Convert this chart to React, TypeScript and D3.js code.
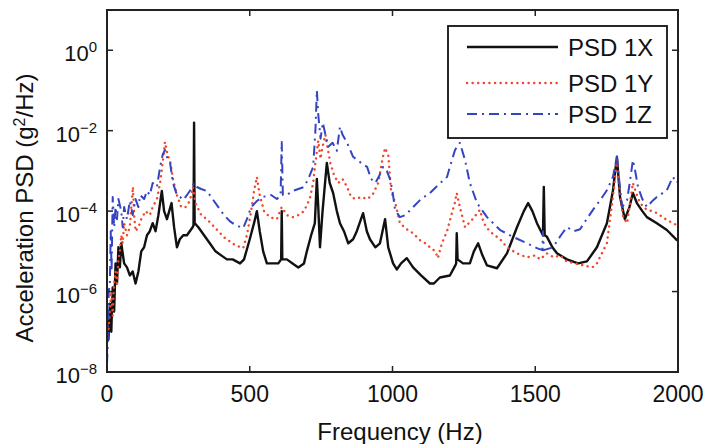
import React from "react";
import * as d3 from "d3";

// Frequencies (Hz) and log10(PSD, g^2/Hz)
const freqX = [0,5,10,15,20,25,30,35,40,45,50,60,70,80,90,100,110,120,130,140,150,160,170,180,192,200,210,226,235,245,255,267,280,290,300,303,305,307,320,340,360,380,400,420,440,466,480,500,515,525,535,547,560,580,600,610,612,614,630,650,670,690,700,715,728,735,740,746,755,770,780,792,805,816,830,845,862,875,897,910,921,940,956,974,985,1002,1015,1030,1050,1072,1100,1131,1145,1166,1201,1220,1223,1225,1228,1247,1271,1285,1300,1315,1331,1366,1401,1436,1460,1475,1490,1506,1520,1527,1530,1533,1541,1560,1576,1611,1650,1681,1716,1751,1772,1786,1797,1814,1830,1842,1856,1875,1891,1926,1961,1996,2000];
const psdXExp = [-6.6,-7.2,-6.3,-7.0,-5.9,-6.5,-5.3,-5.8,-4.9,-5.4,-4.8,-5.3,-5.4,-5.6,-5.5,-5.8,-5.5,-5.0,-4.9,-4.6,-4.5,-4.3,-4.5,-4.1,-3.5,-4.0,-4.2,-3.8,-4.4,-4.9,-4.7,-4.6,-4.6,-4.5,-4.4,-4.35,-1.8,-4.3,-4.4,-4.6,-4.8,-5.0,-5.1,-5.2,-5.2,-5.3,-5.2,-4.7,-4.3,-4.0,-4.5,-5.0,-5.3,-5.3,-5.3,-5.2,-4.0,-5.2,-5.2,-5.3,-5.4,-5.3,-5.0,-4.6,-4.3,-3.2,-3.9,-4.9,-4.0,-2.8,-3.3,-3.55,-4.0,-4.3,-4.5,-4.8,-4.7,-4.5,-4.05,-4.5,-4.7,-4.9,-4.8,-4.2,-4.9,-5.3,-5.45,-5.3,-5.17,-5.4,-5.6,-5.8,-5.8,-5.65,-5.6,-5.35,-5.3,-4.55,-5.2,-5.3,-5.3,-5.0,-4.8,-5.1,-5.35,-5.42,-5.05,-4.4,-4.0,-3.8,-4.0,-4.3,-4.5,-4.6,-3.4,-4.6,-4.64,-4.9,-5.05,-5.2,-5.3,-5.25,-4.9,-4.3,-3.5,-2.65,-3.65,-4.2,-3.9,-3.55,-3.8,-4.0,-4.15,-4.3,-4.47,-4.72,-4.7];

const freqY = [0,5,10,15,20,25,30,35,40,45,50,55,60,70,80,85,91,95,100,110,120,135,150,160,175,186,195,203,212,221,231,245,260,275,290,301,310,330,350,370,390,410,430,450,477,490,505,515,525,535,550,570,595,612,630,650,670,690,710,722,730,740,748,755,765,772,782,795,810,825,841,855,870,890,911,930,950,965,974,985,995,1010,1026,1050,1072,1096,1115,1131,1150,1159,1173,1191,1208,1218,1225,1236,1254,1278,1306,1320,1340,1377,1401,1436,1470,1500,1517,1541,1565,1587,1610,1640,1670,1700,1716,1727,1751,1772,1786,1797,1808,1822,1842,1856,1867,1891,1910,1926,1961,1996,2000];
const psdYExp = [-6.8,-7.0,-6.5,-6.0,-6.6,-5.8,-5.5,-5.8,-5.2,-5.0,-4.6,-4.8,-4.3,-4.6,-4.4,-3.9,-3.4,-4.1,-4.5,-4.4,-4.2,-4.0,-4.1,-3.9,-3.7,-3.3,-2.8,-2.28,-2.6,-2.75,-3.2,-3.6,-3.9,-3.9,-3.75,-3.4,-3.8,-4.1,-4.2,-4.35,-4.5,-4.65,-4.75,-4.85,-4.92,-4.6,-4.0,-3.5,-3.15,-3.6,-4.0,-4.15,-4.2,-3.9,-4.1,-4.15,-4.1,-4.0,-3.7,-3.3,-2.8,-2.25,-2.7,-2.4,-2.1,-2.4,-2.8,-3.1,-3.3,-3.2,-3.4,-3.65,-3.7,-3.65,-3.7,-3.6,-3.3,-2.7,-2.43,-2.6,-3.5,-3.8,-4.3,-4.45,-4.55,-4.72,-4.8,-4.9,-5.0,-5.17,-4.8,-4.5,-4.05,-3.8,-3.55,-3.9,-4.4,-4.22,-3.97,-4.3,-4.5,-4.7,-4.9,-5.05,-5.15,-5.1,-5.2,-5.05,-5.15,-5.1,-5.25,-5.3,-5.35,-5.4,-5.3,-5.14,-4.8,-3.65,-2.73,-3.6,-4.15,-4.3,-3.3,-3.6,-3.8,-3.97,-4.0,-4.05,-4.22,-4.35,-4.35];

const freqZ = [0,3,6,10,13,16,20,25,30,35,40,50,55,60,70,80,90,100,110,116,130,140,150,160,175,186,195,203,212,221,231,245,256,267,280,290,305,315,330,350,370,390,410,430,450,477,490,505,525,545,575,595,608,612,616,630,650,670,690,705,722,730,735,740,748,756,765,775,790,805,816,825,841,862,880,900,911,925,940,955,967,980,991,1000,1009,1026,1045,1072,1100,1131,1160,1191,1201,1219,1236,1254,1271,1296,1331,1377,1422,1471,1506,1525,1527,1530,1562,1590,1611,1635,1657,1680,1702,1730,1751,1772,1786,1795,1804,1822,1835,1842,1850,1860,1875,1891,1910,1926,1961,1982,1996,2000];
const psdZExp = [-7.8,-7.2,-6.0,-5.8,-4.5,-5.5,-3.65,-4.4,-3.9,-4.2,-3.7,-4.0,-4.4,-3.9,-4.2,-3.75,-4.1,-3.7,-3.9,-3.6,-3.7,-3.5,-3.6,-3.3,-3.4,-2.9,-2.6,-2.48,-2.7,-2.8,-3.3,-3.6,-3.65,-3.72,-3.6,-3.5,-3.3,-3.4,-3.45,-3.5,-3.7,-3.9,-4.1,-4.25,-4.35,-4.42,-4.2,-3.9,-3.75,-3.65,-3.6,-3.7,-3.6,-2.28,-3.6,-3.6,-3.5,-3.45,-3.4,-3.2,-2.9,-2.0,-1.0,-1.6,-2.2,-1.8,-2.1,-2.4,-2.3,-2.5,-1.9,-2.1,-2.3,-2.65,-2.75,-2.85,-2.9,-3.2,-3.3,-3.1,-2.9,-3.0,-3.2,-3.5,-3.97,-4.15,-4.1,-3.9,-3.7,-3.55,-3.35,-3.15,-2.9,-2.48,-2.3,-2.73,-3.3,-3.8,-4.15,-4.47,-4.64,-4.8,-4.92,-4.97,-4.5,-4.97,-4.9,-4.6,-4.4,-4.5,-4.45,-4.2,-3.97,-3.7,-3.48,-3.15,-2.65,-3.3,-3.9,-3.72,-3.1,-2.73,-3.0,-3.4,-3.7,-3.9,-3.75,-3.65,-3.48,-3.15,-3.3,-3.25];

const xTicks = [0, 500, 1000, 1500, 2000];
const yTickExps = [0, -2, -4, -6, -8];
const seriesNames = ["PSD 1X", "PSD 1Y", "PSD 1Z"];

const W = 714, H = 444;
const L = 107, R = 678, T = 10, B = 372;
const FONT = "'Liberation Sans', Arial, Helvetica, sans-serif";

export default function App() {
  const x = d3.scaleLinear().domain([0, 2000]).range([L, R]);
  const y = d3.scaleLog().domain([1e-8, 10]).range([B, T]);
  const mk = (fs: number[], es: number[]) =>
    d3.line<number>().x((_, i) => x(fs[i])).y((e) => y(Math.pow(10, e)))(es) || "";

  const series = [
    { name: seriesNames[0], d: mk(freqX, psdXExp), color: "#111", dash: undefined, w: 2.4, cap: "butt" },
    { name: seriesNames[1], d: mk(freqY, psdYExp), color: "#f0462a", dash: "0.1,5.5", w: 2.4, cap: "round" },
    { name: seriesNames[2], d: mk(freqZ, psdZExp), color: "#3445c4", dash: "10,5,2,5", w: 2, cap: "butt" },
  ];

  const fmtExp = (e: number) => (e < 0 ? "\u2212" + Math.abs(e) : String(e));

  return (
    <div style={{ position: "absolute", left: 0, top: 0 }}>
      <svg width={W} height={H} style={{ display: "block", background: "#fff" }} fontFamily={FONT}>
        <defs>
          <clipPath id="plotclip">
            <rect x={L} y={T} width={R - L} height={B - T} />
          </clipPath>
        </defs>
        <rect x={0} y={0} width={W} height={H} fill="#fff" />
        <g clipPath="url(#plotclip)">
          {series.map((s) => (
            <path key={s.name} d={s.d} fill="none" stroke={s.color} strokeWidth={s.w}
              strokeDasharray={s.dash} strokeLinecap={s.cap as any} strokeLinejoin="round" />
          ))}
        </g>
        {xTicks.map((t) => (
          <g key={"xt" + t}>
            <line x1={x(t)} x2={x(t)} y1={B} y2={B - 6} stroke="#222" strokeWidth={1.5} />
            <line x1={x(t)} x2={x(t)} y1={T} y2={T + 6} stroke="#222" strokeWidth={1.5} />
            <text x={x(t)} y={402} fontSize={23} textAnchor="middle" fill="#111">{t}</text>
          </g>
        ))}
        {yTickExps.map((e) => (
          <g key={"yt" + e}>
            <line x1={L} x2={L + 6} y1={y(Math.pow(10, e))} y2={y(Math.pow(10, e))} stroke="#222" strokeWidth={1.5} />
            <line x1={R} x2={R - 6} y1={y(Math.pow(10, e))} y2={y(Math.pow(10, e))} stroke="#222" strokeWidth={1.5} />
            <text x={97} y={y(Math.pow(10, e)) + 11} fontSize={22} textAnchor="end" fill="#111">
              10<tspan dy={-9} fontSize={15}>{fmtExp(e)}</tspan>
            </text>
          </g>
        ))}
        <rect x={L} y={T} width={R - L} height={B - T} fill="none" stroke="#222" strokeWidth={2} />
        <text x={400} y={440} fontSize={24} textAnchor="middle" fill="#111">Frequency (Hz)</text>
        <text transform="translate(33,208) rotate(-90)" fontSize={24} textAnchor="middle" fill="#111">
          Acceleration PSD (g<tspan dy={-8} fontSize={16}>2</tspan><tspan dy={8}>/Hz)</tspan>
        </text>
        <rect x={448} y={26} width={219} height={112} fill="#fff" stroke="#111" strokeWidth={1.8} />
        {series.map((s, i) => {
          const ly = [47, 83, 114][i];
          return (
            <g key={"lg" + s.name}>
              <line x1={467} x2={558} y1={ly} y2={ly} stroke={s.color} strokeWidth={s.w}
                strokeDasharray={s.dash} strokeLinecap={s.cap as any} />
              <text x={568} y={ly + 9} fontSize={24} fill="#111">{s.name}</text>
            </g>
          );
        })}
      </svg>
    </div>
  );
}
